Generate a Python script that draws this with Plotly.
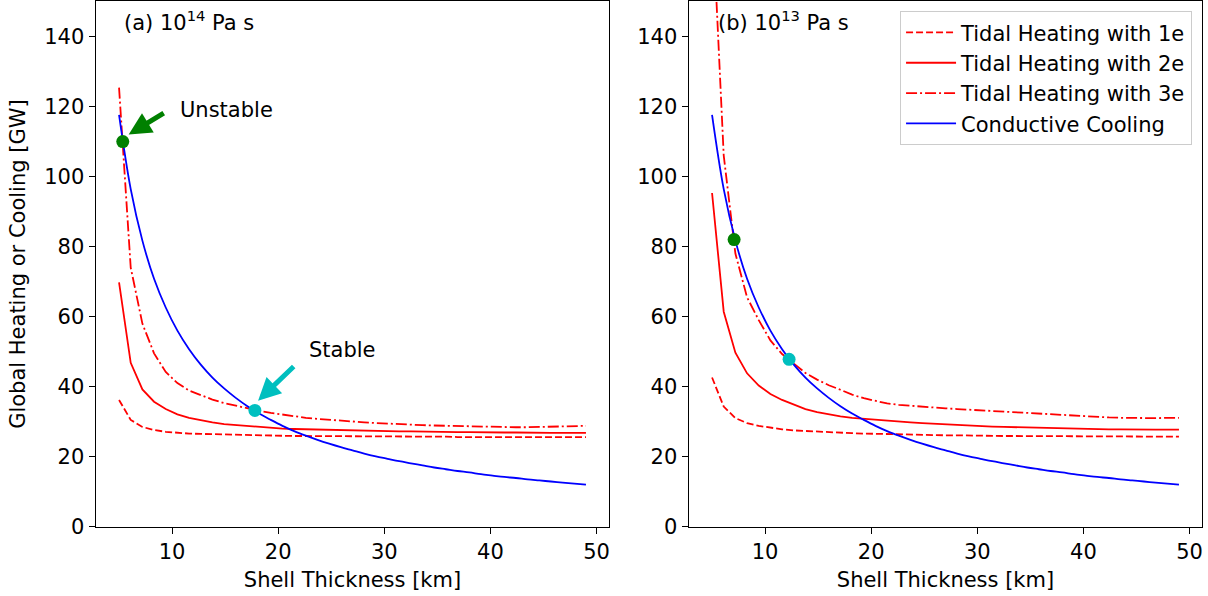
import plotly.graph_objects as go

# ---------------- data ----------------
shell_km = [5.0, 6.1, 7.2, 8.3, 9.4, 10.5, 11.6, 12.7, 13.8, 14.9, 16.0, 17.1, 18.2, 19.3,
            20.4, 21.5, 22.6, 23.7, 24.8, 25.9, 27.0, 28.1, 29.2, 30.3, 31.4, 32.5, 33.6,
            34.7, 35.8, 36.9, 38.0, 39.1, 40.2, 41.3, 42.4, 43.5, 44.6, 45.7, 46.8, 47.9, 49.0]

cooling = [117.6, 96.4, 81.7, 70.8, 62.6, 56.0, 50.7, 46.3, 42.6, 39.5, 36.8, 34.4, 32.3, 30.5,
           28.8, 27.3, 26.0, 24.8, 23.7, 22.7, 21.8, 20.9, 20.1, 19.4, 18.7, 18.1, 17.5,
           16.9, 16.4, 15.9, 15.5, 15.0, 14.6, 14.2, 13.9, 13.5, 13.2, 12.9, 12.6, 12.3, 12.0]

# panel (a) 1e14 Pa s
tidal_1e_a = [36.2, 30.5, 28.5, 27.6, 27.1, 26.8, 26.6, 26.5, 26.4, 26.3,
              26.2, 26.1, 26.1, 26.0, 26.0, 25.9, 25.9, 25.9, 25.8, 25.8,
              25.8, 25.8, 25.7, 25.7, 25.7, 25.7, 25.7, 25.7, 25.7, 25.6,
              25.6, 25.6, 25.6, 25.6, 25.6, 25.6, 25.6, 25.6, 25.6, 25.6, 25.6]
tidal_2e_a = [69.8, 46.8, 39.2, 35.7, 33.6, 32.1, 31.1, 30.4, 29.8, 29.3,
              29.0, 28.7, 28.4, 28.2, 28.0, 27.9, 27.8, 27.7, 27.6, 27.5,
              27.4, 27.4, 27.3, 27.3, 27.2, 27.2, 27.1, 27.1, 27.0, 27.0,
              27.0, 26.9, 26.9, 26.9, 26.9, 26.8, 26.8, 26.8, 26.8, 26.8, 26.8]
tidal_3e_a = [125.4, 74.0, 58.0, 49.5, 44.2, 41.0, 38.9, 37.5, 36.3, 35.3,
              34.5, 33.8, 33.1, 32.5, 32.0, 31.5, 31.1, 30.8, 30.5, 30.2,
              30.0, 29.8, 29.6, 29.4, 29.3, 29.1, 29.0, 28.9, 28.8, 28.7,
              28.6, 28.5, 28.5, 28.4, 28.4, 28.4, 28.5, 28.5, 28.6, 28.7, 28.8]

# panel (b) 1e13 Pa s
tidal_1e_b = [42.6, 34.3, 31.0, 29.6, 28.8, 28.2, 27.8, 27.5, 27.3, 27.1,
              26.9, 26.8, 26.7, 26.6, 26.5, 26.4, 26.3, 26.3, 26.2, 26.2,
              26.1, 26.1, 26.0, 26.0, 26.0, 25.9, 25.9, 25.9, 25.9, 25.8,
              25.8, 25.8, 25.8, 25.8, 25.7, 25.7, 25.7, 25.7, 25.7, 25.7, 25.7]
tidal_2e_b = [95.3, 61.4, 49.7, 43.8, 40.3, 37.9, 36.2, 34.9, 33.6, 32.7,
              32.0, 31.5, 31.1, 30.8, 30.5, 30.2, 30.0, 29.8, 29.6, 29.4,
              29.2, 29.0, 28.8, 28.7, 28.6, 28.5, 28.4, 28.3, 28.2, 28.1,
              28.0, 27.9, 27.9, 27.8, 27.8, 27.8, 27.7, 27.7, 27.7, 27.7, 27.7]
tidal_3e_b = [177.0, 106.0, 78.0, 65.5, 59.0, 53.2, 49.3, 46.6, 43.9, 42.0,
              40.4, 39.1, 37.7, 36.7, 35.9, 35.2, 34.8, 34.5, 34.2, 34.0,
              33.8, 33.6, 33.4, 33.2, 33.0, 32.8, 32.6, 32.4, 32.2, 32.0,
              31.8, 31.6, 31.4, 31.3, 31.2, 31.1, 31.0, 31.0, 31.0, 31.1, 31.1]

# equilibrium points: [unstable, stable]
eq_x_a = [5.35, 17.8]
eq_y_a = [110.0, 33.2]
eq_x_b = [7.08, 12.26]
eq_y_b = [82.0, 47.8]

series_names = ["Tidal Heating with 1e", "Tidal Heating with 2e",
                "Tidal Heating with 3e", "Conductive Cooling"]
x_ticks = [10, 20, 30, 40, 50]
y_ticks = [0, 20, 40, 60, 80, 100, 120, 140]

# ---------------- styling ----------------
RED = "#ff0000"
BLUE = "#0000ff"
GREEN = "#008000"
CYAN = "#00bfbf"
FONT = "DejaVu Sans"
FS = 21
LW = 1.8
DASH = "7px,3px"
DASHDOT = "11px,3px,2px,3px"

fig = go.Figure()

panels = [
    ("x", "y", tidal_1e_a, tidal_2e_a, tidal_3e_a, eq_x_a, eq_y_a, False),
    ("x2", "y2", tidal_1e_b, tidal_2e_b, tidal_3e_b, eq_x_b, eq_y_b, True),
]
for xa, ya, t1, t2, t3, ex, ey, legend in panels:
    fig.add_trace(go.Scatter(x=shell_km, y=t1, mode="lines", name=series_names[0],
                             line=dict(color=RED, width=LW, dash=DASH),
                             xaxis=xa, yaxis=ya, showlegend=legend))
    fig.add_trace(go.Scatter(x=shell_km, y=t2, mode="lines", name=series_names[1],
                             line=dict(color=RED, width=LW),
                             xaxis=xa, yaxis=ya, showlegend=legend))
    fig.add_trace(go.Scatter(x=shell_km, y=t3, mode="lines", name=series_names[2],
                             line=dict(color=RED, width=LW, dash=DASHDOT),
                             xaxis=xa, yaxis=ya, showlegend=legend))
    fig.add_trace(go.Scatter(x=shell_km, y=cooling, mode="lines", name=series_names[3],
                             line=dict(color=BLUE, width=LW, shape="spline"),
                             xaxis=xa, yaxis=ya, showlegend=legend))
    fig.add_trace(go.Scatter(x=ex, y=ey, mode="markers",
                             marker=dict(color=[GREEN, CYAN], size=13),
                             xaxis=xa, yaxis=ya, showlegend=False))

YDOM = [0.1163, 0.9975]
axis_common = dict(range=[2.8, 51.2], tickvals=x_ticks, showgrid=False, zeroline=False,
                   showline=True, linecolor="black", linewidth=1.3, mirror=True,
                   ticks="outside", ticklen=6, tickwidth=1.3, tickcolor="black",
                   tickfont=dict(family=FONT, size=FS, color="black"),
                   title=dict(text="Shell Thickness [km]",
                              font=dict(family=FONT, size=FS, color="black"), standoff=9),
                   automargin=False)
yaxis_common = dict(range=[0, 150], tickvals=y_ticks, showgrid=False, zeroline=False,
                    showline=True, linecolor="black", linewidth=1.3, mirror=True,
                    ticks="outside", ticklen=6, tickwidth=1.3, tickcolor="black",
                    tickfont=dict(family=FONT, size=FS, color="black"),
                    automargin=False)

fig.update_layout(
    width=1208, height=596, autosize=False,
    margin=dict(l=0, r=0, t=0, b=0),
    paper_bgcolor="white", plot_bgcolor="white",
    font=dict(family=FONT, size=FS, color="black"),
    xaxis=dict(domain=[0.07922, 0.50439], anchor="y", **axis_common),
    xaxis2=dict(domain=[0.57012, 0.99528], anchor="y2", **axis_common),
    yaxis=dict(domain=YDOM, anchor="x",
               title=dict(text="Global Heating or Cooling [GW]",
                          font=dict(family=FONT, size=FS, color="black"), standoff=12),
               **yaxis_common),
    yaxis2=dict(domain=YDOM, anchor="x2", **yaxis_common),
    legend=dict(x=0.9868, y=0.981, xanchor="right", yanchor="top", itemwidth=50,
                bgcolor="rgba(255,255,255,0.8)", bordercolor="#cccccc", borderwidth=1,
                font=dict(family=FONT, size=FS, color="black")),
    annotations=[
        dict(text="(a) 10<sup>14</sup> Pa s", x=5.32, y=144.4, xref="x", yref="y",
             xanchor="left", yanchor="middle", showarrow=False,
             font=dict(family=FONT, size=FS, color="black")),
        dict(text="(b) 10<sup>13</sup> Pa s", x=5.41, y=144.4, xref="x2", yref="y2",
             xanchor="left", yanchor="middle", showarrow=False,
             font=dict(family=FONT, size=FS, color="black")),
        # Unstable label + arrow
        dict(text="Unstable", x=10.53, y=119.0, xref="x", yref="y",
             xanchor="left", yanchor="middle", showarrow=False,
             font=dict(family=FONT, size=FS, color="black")),
        dict(text=" ", x=5.91, y=112.0, ax=9.68, ay=119.0, xref="x", yref="y",
             axref="x", ayref="y", showarrow=True, arrowhead=2, arrowsize=0.9,
             arrowwidth=5, arrowcolor=GREEN, standoff=0),
        # Stable label + arrow
        dict(text="Stable", x=22.67, y=50.4, xref="x", yref="y",
             xanchor="left", yanchor="middle", showarrow=False,
             font=dict(family=FONT, size=FS, color="black")),
        dict(text=" ", x=18.1, y=36.0, ax=21.93, ay=47.1, xref="x", yref="y",
             axref="x", ayref="y", showarrow=True, arrowhead=2, arrowsize=0.9,
             arrowwidth=5, arrowcolor=CYAN, standoff=0),
    ],
)

fig.write_html("out.html", config={"displayModeBar": False},
               post_script="document.body.style.margin='0px';document.body.style.padding='0px';")
